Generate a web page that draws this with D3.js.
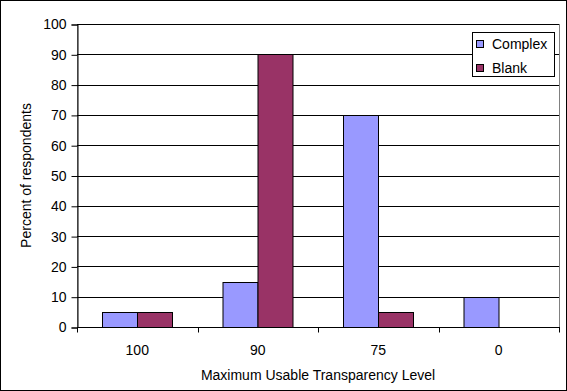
<!DOCTYPE html>
<html>
<head>
<meta charset="utf-8">
<script src="https://cdn.jsdelivr.net/npm/d3@7"></script>
<style>
  html, body { margin: 0; padding: 0; background: #fff; }
  svg { display: block; font-family: "Liberation Sans", Arial, sans-serif; }
</style>
</head>
<body>
<svg id="chart" width="567" height="391"></svg>
<script>
// Survey results: maximum usable transparency level per background type
const categories = ["100", "90", "75", "0"];
const seriesNames = ["Complex", "Blank"];
const complexValues = [5, 15, 70, 10];
const blankValues = [5, 90, 5, 0];
const yTicks = [0, 10, 20, 30, 40, 50, 60, 70, 80, 90, 100];
const colors = ["#9999FF", "#993366"];

const W = 567, H = 391;
const plot = { left: 77, right: 559, top: 24, bottom: 327 };
const FONT = 14;

const svg = d3.select("#chart");

// outer frame
svg.append("rect")
  .attr("x", 0.5).attr("y", 0.5)
  .attr("width", W - 1).attr("height", H - 1)
  .attr("fill", "#fff").attr("stroke", "#000");

const x = d3.scaleBand()
  .domain(categories)
  .range([plot.left, plot.right]);

const xInner = d3.scaleBand()
  .domain(seriesNames)
  .range([0, x.bandwidth()])
  .paddingInner(0)
  .paddingOuter(0.72);

const y = d3.scaleLinear()
  .domain([0, 100])
  .range([plot.bottom, plot.top]);

// plot area border
svg.append("rect")
  .attr("x", plot.left + 0.5).attr("y", plot.top + 0.5)
  .attr("width", plot.right - plot.left).attr("height", plot.bottom - plot.top)
  .attr("fill", "none").attr("stroke", "#808080");

// horizontal gridlines
svg.append("g")
  .selectAll("line")
  .data(yTicks.filter(d => d > 0))
  .join("line")
  .attr("x1", plot.left).attr("x2", plot.right)
  .attr("y1", d => Math.round(y(d)) + 0.5)
  .attr("y2", d => Math.round(y(d)) + 0.5)
  .attr("stroke", "#000");

// bars
const rows = categories.map((c, i) => ({
  cat: c,
  vals: [complexValues[i], blankValues[i]]
}));

const groups = svg.append("g")
  .selectAll("g")
  .data(rows)
  .join("g")
  .attr("transform", d => `translate(${x(d.cat)},0)`);

groups.selectAll("rect")
  .data(d => d.vals.map((v, j) => ({ name: seriesNames[j], v, j })).filter(e => e.v > 0))
  .join("rect")
  .attr("x", d => Math.round(xInner(d.name)) + 0.5)
  .attr("y", d => Math.round(y(d.v)) + 0.5)
  .attr("width", d => Math.round(xInner.bandwidth()))
  .attr("height", d => Math.round(y(0)) - Math.round(y(d.v)))
  .attr("fill", d => colors[d.j])
  .attr("stroke", "#000");

// y axis
const yAxis = d3.axisLeft(y)
  .tickValues(yTicks)
  .tickSize(6)
  .tickPadding(5);
const gy = svg.append("g")
  .attr("transform", `translate(${plot.left + 0.5},0.5)`)
  .call(yAxis);
gy.attr("font-size", FONT).attr("font-family", "Liberation Sans, Arial, sans-serif");
gy.select(".domain").attr("stroke", "#000");
gy.selectAll(".tick line").attr("stroke", "#000");
gy.selectAll(".tick text").attr("fill", "#000");

// x axis: ticks fall on category boundaries
const gx = svg.append("g")
  .attr("transform", `translate(0,${plot.bottom + 0.5})`);
gx.append("line")
  .attr("x1", plot.left).attr("x2", plot.right + 1)
  .attr("stroke", "#000");
const boundaries = categories.map(c => x(c)).concat([plot.right]);
gx.selectAll("line.tk")
  .data(boundaries)
  .join("line")
  .attr("class", "tk")
  .attr("x1", d => Math.round(d) + 0.5).attr("x2", d => Math.round(d) + 0.5)
  .attr("y1", 0).attr("y2", 5)
  .attr("stroke", "#000");
gx.selectAll("text")
  .data(categories)
  .join("text")
  .attr("x", d => x(d) + x.bandwidth() / 2)
  .attr("y", 27)
  .attr("text-anchor", "middle")
  .attr("font-size", FONT)
  .attr("fill", "#000")
  .text(d => d);

// axis titles
svg.append("text")
  .attr("x", 318)
  .attr("y", 380)
  .attr("text-anchor", "middle")
  .attr("font-size", FONT)
  .attr("fill", "#000")
  .text("Maximum Usable Transparency Level");

svg.append("text")
  .attr("transform", `translate(31,${(plot.top + plot.bottom) / 2}) rotate(-90)`)
  .attr("text-anchor", "middle")
  .attr("font-size", FONT)
  .attr("fill", "#000")
  .text("Percent of respondents");

// legend
const lg = svg.append("g").attr("transform", "translate(472,32)");
lg.append("rect")
  .attr("x", 0.5).attr("y", 0.5)
  .attr("width", 82).attr("height", 44)
  .attr("fill", "#fff").attr("stroke", "#000");
const items = lg.selectAll("g.item")
  .data(seriesNames)
  .join("g")
  .attr("class", "item")
  .attr("transform", (d, i) => `translate(4,${8 + i * 24})`);
items.append("rect")
  .attr("x", 0.5).attr("y", 0.5)
  .attr("width", 7).attr("height", 7)
  .attr("fill", (d, i) => colors[i])
  .attr("stroke", "#000");
items.append("text")
  .attr("x", 16).attr("y", 8.5)
  .attr("font-size", FONT)
  .attr("fill", "#000")
  .text(d => d);
</script>
</body>
</html>
